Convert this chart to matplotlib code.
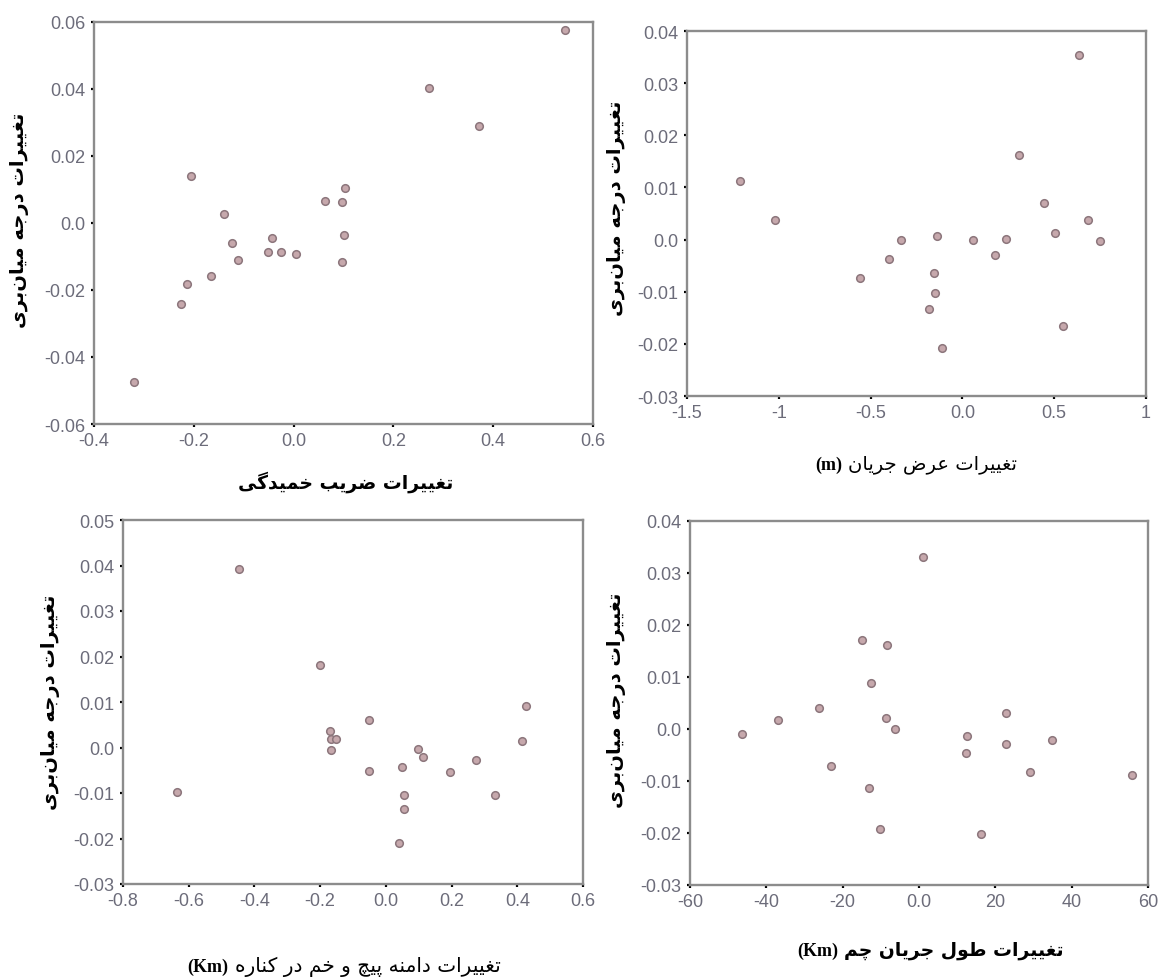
import matplotlib
matplotlib.use('Agg')
import matplotlib.pyplot as plt

W, H = 1162, 978

# ---- data ----
x1 = [0.544, 0.271, 0.371, -0.206, -0.139, -0.124, -0.112, -0.165, -0.213, -0.225,
      -0.043, -0.052, -0.025, 0.004, 0.062, 0.097, 0.104, 0.102, 0.097, -0.320]
y1 = [0.0577, 0.0404, 0.0290, 0.0141, 0.0026, -0.0061, -0.0109, -0.0158, -0.0183, -0.0241,
      -0.0044, -0.0086, -0.0086, -0.0094, 0.0065, 0.0062, 0.0104, -0.0037, -0.0117, -0.0474]

x2 = [-1.21, -1.02, -0.56, -0.40, -0.335, -0.139, -0.152, -0.147, -0.184, -0.111,
      0.058, 0.177, 0.235, 0.307, 0.446, 0.502, 0.548, 0.636, 0.682, 0.749]
y2 = [0.0112, 0.0038, -0.0074, -0.0037, 0.0000, 0.0006, -0.0064, -0.0103, -0.0133, -0.0207,
      0.0000, -0.0029, 0.0001, 0.0163, 0.0071, 0.0013, -0.0165, 0.0354, 0.0038, -0.0003]

x3 = [-0.446, -0.636, -0.200, -0.170, -0.166, -0.152, -0.168, -0.051, -0.051, 0.049,
      0.055, 0.055, 0.041, 0.099, 0.114, 0.195, 0.275, 0.333, 0.413, 0.427]
y3 = [0.0393, -0.0097, 0.0181, 0.0037, 0.0018, 0.0018, -0.0006, 0.0060, -0.0052, -0.0043,
      -0.0104, -0.0136, -0.0209, -0.0003, -0.0020, -0.0054, -0.0027, -0.0104, 0.0015, 0.0092]

x4 = [-46.4, -36.9, -26.3, -23.0, -14.9, -8.3, -12.6, -13.0, -10.1, -8.6,
      -6.4, 1.0, 12.5, 12.2, 16.2, 22.9, 22.9, 29.1, 34.8, 55.8]
y4 = [-0.0010, 0.0017, 0.0040, -0.0071, 0.0172, 0.0162, 0.0088, -0.0113, -0.0192, 0.0022,
      0.0000, 0.0331, -0.0013, -0.0046, -0.0201, 0.0030, -0.0028, -0.0083, -0.0021, -0.0088]

# tick values and their labels
xt1 = [-0.4, -0.2, 0.0, 0.2, 0.4, 0.6]
xl1 = ['-0.4', '-0.2', '0.0', '0.2', '0.4', '0.6']
yt1 = [-0.06, -0.04, -0.02, 0.0, 0.02, 0.04, 0.06]
yl1 = ['-0.06', '-0.04', '-0.02', '0.0', '0.02', '0.04', '0.06']

xt2 = [-1.5, -1.0, -0.5, 0.0, 0.5, 1.0]
xl2 = ['-1.5', '-1', '-0.5', '0.0', '0.5', '1']
yt2 = [-0.03, -0.02, -0.01, 0.0, 0.01, 0.02, 0.03, 0.04]
yl2 = ['-0.03', '-0.02', '-0.01', '0.0', '0.01', '0.02', '0.03', '0.04']

xt3 = [-0.8, -0.6, -0.4, -0.2, 0.0, 0.2, 0.4, 0.6]
xl3 = ['-0.8', '-0.6', '-0.4', '-0.2', '0.0', '0.2', '0.4', '0.6']
yt3 = [-0.03, -0.02, -0.01, 0.0, 0.01, 0.02, 0.03, 0.04, 0.05]
yl3 = ['-0.03', '-0.02', '-0.01', '0.0', '0.01', '0.02', '0.03', '0.04', '0.05']

xt4 = [-60, -40, -20, 0, 20, 40, 60]
xl4 = ['-60', '-40', '-20', '0.0', '20', '40', '60']
yt4 = yt2
yl4 = yl2

ylab = 'تغییرات درجه میان‌بری'
xlab1 = 'تغییرات ضریب خمیدگی'
xlab2 = 'تغییرات عرض جریان'
xlab3 = 'تغییرات دامنه پیچ و خم در کناره'
xlab4 = 'تغییرات طول جریان چم'

# ---- minimal Persian shaping (matplotlib has no bidi / shaping) ----
# isolated, final, initial, medial
FORMS = {
    'ا': ('\uFE8D', '\uFE8E', None, None),
    'ب': ('\uFE8F', '\uFE90', '\uFE91', '\uFE92'),
    'ت': ('\uFE95', '\uFE96', '\uFE97', '\uFE98'),
    'ج': ('\uFE9D', '\uFE9E', '\uFE9F', '\uFEA0'),
    'خ': ('\uFEA5', '\uFEA6', '\uFEA7', '\uFEA8'),
    'د': ('\uFEA9', '\uFEAA', None, None),
    'ر': ('\uFEAD', '\uFEAE', None, None),
    'ض': ('\uFEBD', '\uFEBE', '\uFEBF', '\uFEC0'),
    'ط': ('\uFEC1', '\uFEC2', '\uFEC3', '\uFEC4'),
    'ع': ('\uFEC9', '\uFECA', '\uFECB', '\uFECC'),
    'غ': ('\uFECD', '\uFECE', '\uFECF', '\uFED0'),
    'ل': ('\uFEDD', '\uFEDE', '\uFEDF', '\uFEE0'),
    'م': ('\uFEE1', '\uFEE2', '\uFEE3', '\uFEE4'),
    'ن': ('\uFEE5', '\uFEE6', '\uFEE7', '\uFEE8'),
    'ه': ('\uFEE9', '\uFEEA', '\uFEEB', '\uFEEC'),
    'و': ('\uFEED', '\uFEEE', None, None),
    'پ': ('\uFB56', '\uFB57', '\uFB58', '\uFB59'),
    'چ': ('\uFB7A', '\uFB7B', '\uFB7C', '\uFB7D'),
    'ک': ('\uFB8E', '\uFB8F', '\uFB90', '\uFB91'),
    'گ': ('\uFB92', '\uFB93', '\uFB94', '\uFB95'),
    'ی': ('\uFBFC', '\uFBFD', '\uFBFE', '\uFBFF'),
}


def fa(text):
    out = []
    for i, c in enumerate(text):
        if c not in FORMS:
            out.append(c)
            continue
        prev = text[i - 1] if i > 0 else None
        nxt = text[i + 1] if i + 1 < len(text) else None
        jp = prev in FORMS and FORMS[prev][2] is not None
        jn = nxt in FORMS and FORMS[c][2] is not None
        iso, fin, ini, med = FORMS[c]
        if jp and jn:
            out.append(med)
        elif jp:
            out.append(fin)
        elif jn:
            out.append(ini)
        else:
            out.append(iso)
    return ''.join(out).replace('\u200c', '')[::-1]


fig = plt.figure(figsize=(W / 100, H / 100), dpi=100)
renderer = fig.canvas.get_renderer()

SPINE = '#8c8c8c'
TICKC = '#6c6c7a'
FACE = '#c6a8ac'
EDGE = '#8c767c'


def panel(box, xs, ys, xt, xl, yt, yl):
    l, r, t, b = box
    ax = fig.add_axes([l / W, 1 - b / H, (r - l) / W, (b - t) / H])
    ax.scatter(xs, ys, s=30, c=FACE, edgecolors=EDGE, linewidths=1.1, zorder=3)
    ax.set_xlim(xt[0], xt[-1])
    ax.set_ylim(yt[0], yt[-1])
    ax.set_xticks(xt)
    ax.set_xticklabels(xl)
    ax.set_yticks(yt)
    ax.set_yticklabels(yl)
    for s in ax.spines.values():
        s.set_color(SPINE)
        s.set_linewidth(1.7)
    ax.tick_params(direction='out', length=2.5, width=1.6, color='black',
                   labelcolor=TICKC, labelsize=13, pad=3.5)
    for lab in ax.get_xticklabels() + ax.get_yticklabels():
        lab.set_family('Liberation Sans')
    return ax


panel((94, 593, 23, 425), x1, y1, xt1, xl1, yt1, yl1)
panel((687, 1146, 32, 397), x2, y2, xt2, xl2, yt2, yl2)
panel((123, 583, 521, 885), x3, y3, xt3, xl3, yt3, yl3)
panel((690, 1148, 522, 886), x4, y4, xt4, xl4, yt4, yl4)

# y labels
for xp, yp in [(20, 220), (616, 208), (51, 702), (617, 700)]:
    fig.text(xp / W, 1 - yp / H, fa(ylab), rotation=90, ha='center', va='center',
             fontsize=14, fontweight='bold', family='DejaVu Sans')

# x labels
fig.text(346 / W, 1 - 482 / H, fa(xlab1), ha='center', va='center',
         fontsize=13.5, fontweight='bold', family='DejaVu Sans')


def xlab_unit(xc, yp, text, unit, size, weight):
    gap = 6
    t1 = fig.text(0, 1 - yp / H, fa(text), ha='left', va='center',
                  fontsize=size, fontweight=weight, family='DejaVu Sans')
    t2 = fig.text(0, 1 - yp / H, unit, ha='right', va='center',
                  fontsize=13, fontweight='bold', family='Liberation Serif')
    w1 = t1.get_window_extent(renderer).width
    w2 = t2.get_window_extent(renderer).width
    x_left = xc - (w1 + w2 + gap) / 2 + w2 + gap
    t1.set_x(x_left / W)
    t2.set_x((x_left - gap) / W)


xlab_unit(916, 465, xlab2, '(m)', 14, 'normal')
xlab_unit(344, 967, xlab3, '(Km)', 14.5, 'normal')
xlab_unit(930, 951, xlab4, '(Km)', 13.5, 'bold')

fig.savefig('out.png', dpi=100)
